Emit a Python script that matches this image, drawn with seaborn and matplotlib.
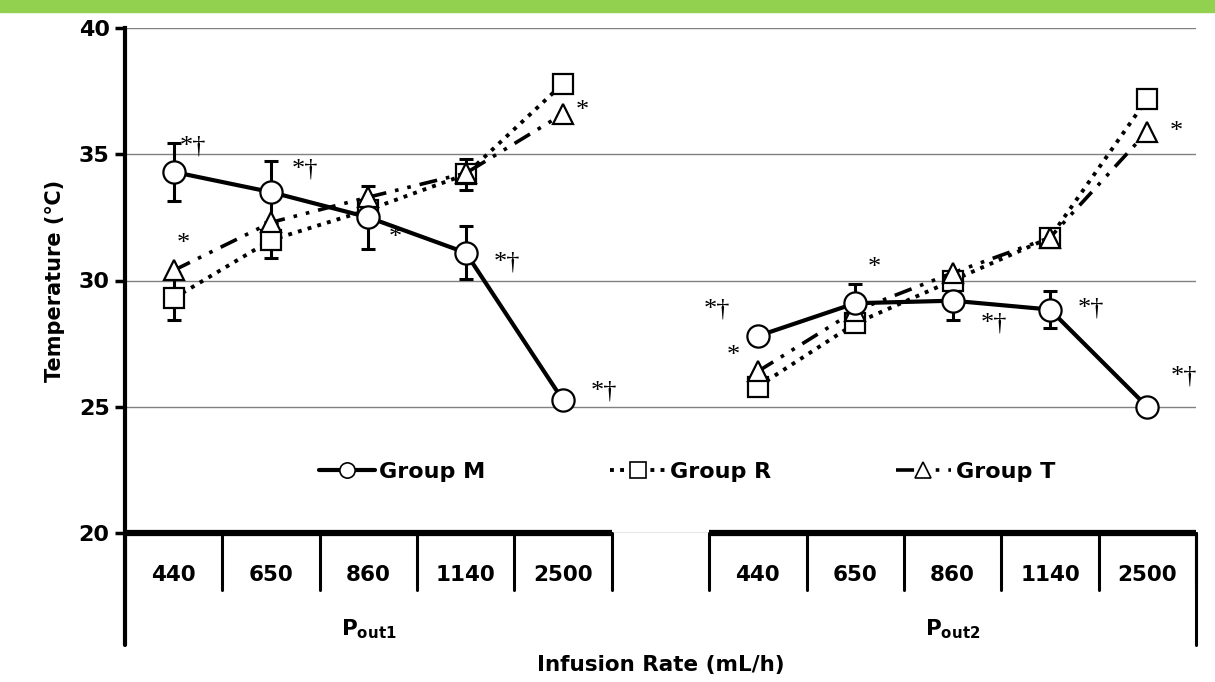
import matplotlib
matplotlib.use("Agg")
import matplotlib.pyplot as plt
import matplotlib.transforms as mtransforms
from matplotlib.lines import Line2D
import numpy as np
import pandas as pd
import seaborn as sns

# infusion rates (same five rates for each outlet)
rates = ['440', '650', '860', '1140', '2500']
panels = ['P$_{\\mathregular{out1}}$', 'P$_{\\mathregular{out2}}$']

# mean temperature (deg C), Pout1 then Pout2
m_out1 = [34.3, 33.5, 32.5, 31.1, 25.25]
m_out2 = [27.8, 29.1, 29.2, 28.85, 25.0]
r_out1 = [29.3, 31.6, 32.8, 34.2, 37.8]
r_out2 = [25.8, 28.3, 30.0, 31.7, 37.2]
t_out1 = [30.4, 32.3, 33.3, 34.25, 36.6]
t_out2 = [26.4, 28.8, 30.3, 31.7, 35.9]

# standard deviations (error bars), 0 where not visible
m_sd1 = [1.15, 1.25, 1.25, 1.05, 0.0]
m_sd2 = [0.0, 0.75, 0.75, 0.72, 0.0]
r_sd1 = [0.85, 0.7, 0.0, 0.6, 0.0]
r_sd2 = [0.0, 0.0, 0.0, 0.0, 0.0]
t_sd1 = [0.0, 0.0, 0.0, 0.0, 0.0]
t_sd2 = [0.0, 0.0, 0.0, 0.0, 0.0]

# significance marks: (group, panel, rate index, text)
marks = [
    ('M', 0, 0, '*†'), ('M', 0, 1, '*†'), ('T', 0, 0, '*'), ('M', 0, 2, '*'),
    ('M', 0, 3, '*†'), ('T', 0, 4, '*'), ('M', 0, 4, '*†'),
    ('M', 1, 0, '*†'), ('T', 1, 0, '*'), ('M', 1, 1, '*'), ('M', 1, 2, '*†'),
    ('M', 1, 3, '*†'), ('T', 1, 4, '*'), ('M', 1, 4, '*†'),
]
# label offsets (x in category units, y in deg C) for each mark above
mark_offsets = [
    (0.2, 1.0), (0.35, 0.9), (0.1, 1.05), (0.28, -0.8),
    (0.42, -0.4), (0.2, 0.1), (0.42, 0.35),
    (-0.42, 1.05), (-0.25, 0.6), (0.2, 1.4), (0.42, -0.9),
    (0.42, 0.05), (0.3, 0.0), (0.38, 1.2),
]

groups = {
    'M': (m_out1, m_out2, m_sd1, m_sd2),
    'R': (r_out1, r_out2, r_sd1, r_sd2),
    'T': (t_out1, t_out2, t_sd1, t_sd2),
}
styles = {
    'M': dict(marker='o', markersize=16, linestyle='-', linewidth=3.0),
    'R': dict(marker='s', markersize=14, linestyle=(0, (1, 1.6)), linewidth=2.8),
    'T': dict(marker='^', markersize=15, linestyle=(0, (5, 2.5, 1, 2.5, 1, 2.5)), linewidth=2.6),
}

# x positions: five cells per outlet with one empty cell between them
xpos = [np.arange(5), np.arange(5) + 6]

rows = []
for g, (v1, v2, s1, s2) in groups.items():
    for p, (vals, sds) in enumerate([(v1, s1), (v2, s2)]):
        for i in range(5):
            rows.append({'group': g, 'panel': p, 'x': xpos[p][i],
                         'temp': vals[i], 'sd': sds[i]})
df = pd.DataFrame(rows)

sns.set_style('white')
plt.rcParams['font.family'] = ['DejaVu Sans']
plt.rcParams['text.color'] = 'black'
plt.rcParams['axes.labelcolor'] = 'black'
plt.rcParams['ytick.color'] = 'black'

fig = plt.figure(figsize=(12.15, 6.82), dpi=100)
fig.patches.append(plt.Rectangle((0, 1 - 12 / 682), 1, 12 / 682, transform=fig.transFigure,
                                 color='#92D050', zorder=0))
ax = fig.add_axes([125 / 1215, 1 - 533 / 682, (1196 - 125) / 1215, (533 - 28) / 682])

# draw order: R under T under M
for g in ['R', 'T', 'M']:
    for p in range(2):
        sub = df[(df.group == g) & (df.panel == p)]
        ax.errorbar(sub.x, sub.temp, yerr=np.where(sub.sd > 0, sub.sd, np.nan), fmt='none',
                    ecolor='black', elinewidth=2.2, capsize=5, capthick=2.2, zorder=2)
        sns.lineplot(data=sub, x='x', y='temp', ax=ax, color='black',
                     markerfacecolor='white', markeredgecolor='black', markeredgewidth=1.6,
                     estimator=None, sort=False, legend=False, zorder=3,
                     **styles[g])

# significance marks
for (g, p, i, txt), (dx, dy) in zip(marks, mark_offsets):
    v = groups[g][p][i]
    ax.text(xpos[p][i] + dx, v + dy, txt, fontsize=19, family=['Liberation Serif', 'DejaVu Serif'],
            ha='center', va='center', color='black', zorder=4)

ax.set_xlim(-0.5, 10.5)
ax.set_ylim(20, 40)
ax.set_yticks([20, 25, 30, 35, 40])
ax.set_yticklabels(['20', '25', '30', '35', '40'], fontsize=16, fontweight='bold')
ax.yaxis.grid(True, color='#808080', linewidth=1.0)
ax.set_axisbelow(True)
ax.tick_params(axis='y', length=7, width=2.5, direction='out', pad=4, left=True, colors='black')
ax.set_xticks([])
ax.set_xlabel('')
ax.set_ylabel('Temperature (℃)', fontsize=15, fontweight='bold', labelpad=10)
for s in ['top', 'right', 'bottom']:
    ax.spines[s].set_visible(False)
ax.spines['left'].set_linewidth(3)
ax.spines['left'].set_color('black')

# category table under the axis
tr = mtransforms.blended_transform_factory(ax.transData, ax.transAxes)
for p in range(2):
    x0 = xpos[p][0] - 0.5
    x1 = xpos[p][-1] + 0.5
    ax.plot([x0, x1], [0, 0], color='black', lw=4.5, transform=tr, clip_on=False,
            solid_capstyle='butt', zorder=5)
    for b in np.arange(x0, x1 + 0.01, 1.0):
        ax.plot([b, b], [0, -0.113], color='black', lw=2.2, transform=tr, clip_on=False)
    for i, r in enumerate(rates):
        ax.text(xpos[p][i], -0.083, r, transform=tr, ha='center', va='center',
                fontsize=15.5, fontweight='bold')
    ax.text(np.mean(xpos[p]), -0.19, panels[p], transform=tr, ha='center', va='center',
            fontsize=15.5, fontweight='bold')
ax.plot([-0.5, -0.5], [0, -0.222], color='black', lw=3, transform=tr, clip_on=False)
ax.plot([10.5, 10.5], [0, -0.222], color='black', lw=2.2, transform=tr, clip_on=False)
ax.text(0.5, -0.262, 'Infusion Rate (mL/h)', transform=ax.transAxes, ha='center', va='center',
        fontsize=15.5, fontweight='bold')

# legend
handles = [Line2D([], [], color='black', markerfacecolor='white', markeredgecolor='black',
                  markeredgewidth=1.2, **{**styles[g], 'markersize': 11})
           for g in ['M', 'R', 'T']]
ax.legend(handles, ['Group M', 'Group R', 'Group T'], ncol=3, frameon=False,
          loc='center', bbox_to_anchor=(0.525, 0.121), handlelength=2.5, handletextpad=0.2,
          columnspacing=5.6, prop={'size': 16, 'weight': 'bold'})

fig.savefig('out.png', dpi=100)
